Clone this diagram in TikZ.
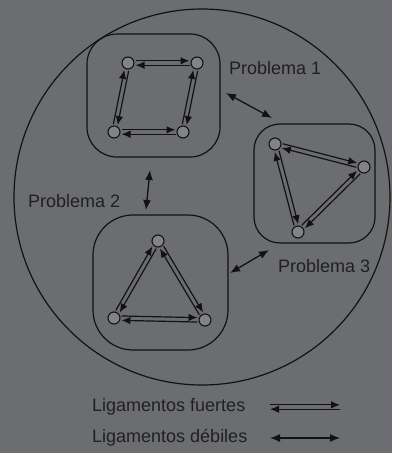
\documentclass[tikz,border=0pt]{standalone}
\usepackage{fontspec}
\setmainfont{Liberation Sans}
\usetikzlibrary{calc,arrows.meta}
\definecolor{bg}{RGB}{108,109,112}
\definecolor{ink}{RGB}{18,18,18}
\definecolor{txt}{RGB}{32,32,32}
\tikzset{
 vert/.style={circle,draw=ink,fill=bg!85!white,line width=1.1pt,minimum size=12pt,inner sep=0pt},
 blob/.style={draw=ink,line width=1.2pt,rounded corners=#1},
 weak/.style={ink,line width=1.3pt,{Latex[length=10pt,width=8pt]}-{Latex[length=10pt,width=8pt]}},
 half/.style={ink,line width=1.2pt,-{Latex[length=9pt,width=7.5pt]}},
 lbl/.style={text=txt,font=\fontsize{18}{21}\selectfont,inner sep=0pt,anchor=west}
}
\newcommand\strongedge[3][7.5pt]{%
 \draw[half,shorten >=#1,shorten <=#1] ($(#2)!2.2pt!90:(#3)$) -- ($(#3)!2.2pt!-90:(#2)$);
 \draw[half,shorten >=#1,shorten <=#1] ($(#3)!2.2pt!90:(#2)$) -- ($(#2)!2.2pt!-90:(#3)$);
}
\begin{document}
\begin{tikzpicture}[x=1pt,y=-1pt]
\fill[bg] (0,0) rectangle (392,453);
\useasboundingbox (0,0) rectangle (392,453);
% outer circle
\draw[ink,line width=1.2pt] (202,197) circle [radius=188pt];
% blobs
\draw[blob=30pt] (87,34) rectangle (220,157);
\draw[blob=26pt] (254,124) rectangle (375,243);
\draw[blob=40pt] (93,215) rectangle (228,350);
% vertices
\node[vert] (a) at (128,63) {};
\node[vert] (b) at (197,63) {};
\node[vert] (c) at (183,132) {};
\node[vert] (d) at (114,132) {};
\node[vert] (e) at (275,144) {};
\node[vert] (f) at (364,167) {};
\node[vert] (g) at (298,232) {};
\node[vert] (h) at (158,241) {};
\node[vert] (i) at (205,320) {};
\node[vert] (j) at (114,318) {};
% strong edges
\strongedge{b}{a}
\strongedge{b}{c}
\strongedge{d}{c}
\strongedge{a}{d}
\strongedge{f}{e}
\strongedge{f}{g}
\strongedge{e}{g}
\strongedge{h}{i}
\strongedge{i}{j}
\strongedge{h}{j}
% labels
\node[lbl] (p1) at (229,68) {Problema 1};
\node[lbl] (p2) at (28,201) {Problema 2};
\node[lbl] (p3) at (278,266) {Problema 3};
% weak links between problems
\coordinate (w1a) at (226,93);
\coordinate (w1b) at (272,118);
\coordinate (w2a) at (150,170);
\coordinate (w2b) at (146,210);
\coordinate (w3a) at (230,273);
\coordinate (w3b) at (269,250);
\draw[weak] (w1a) -- (w1b);
\draw[weak] (w2a) -- (w2b);
\draw[weak] (w3a) -- (w3b);
% legend
\node[lbl] (lf) at (92,407) {Ligamentos fuertes};
\node[lbl] (ld) at (92,438) {Ligamentos débiles};
\coordinate (s1) at (270,407);
\coordinate (s2) at (340,407);
\coordinate (d1) at (270,438);
\coordinate (d2) at (340,438);
\strongedge[0pt]{s2}{s1}
\draw[weak] (d1) -- (d2);
\end{tikzpicture}
\end{document}
